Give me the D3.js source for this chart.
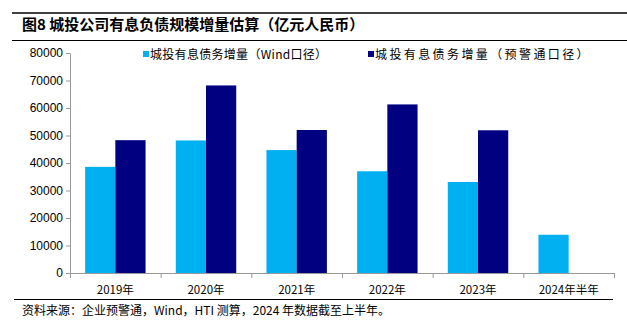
<!DOCTYPE html>
<html><head><meta charset="utf-8">
<script src="https://cdn.jsdelivr.net/npm/d3@7"></script>
<style>
body{margin:0;background:#fff;}
svg{display:block;}
</style></head>
<body>
<svg id="c" width="627" height="323"></svg>
<script>
const categories = ["2019年","2020年","2021年","2022年","2023年","2024年半年"];
const seriesNames = ["城投有息债务增量（Wind口径）","城投有息债务增量（预警通口径）"];
const windValues = [38600, 48200, 44700, 37000, 33100, 13900];
const yjtValues = [48300, 68200, 52000, 61300, 51900, null];
const yTicks = [0,10000,20000,30000,40000,50000,60000,70000,80000];
const colors = ["#00B0F0","#000080"];

const svg = d3.select("#c");
const cjk = "'Noto Sans CJK SC','Noto Sans',sans-serif";
const lat = "'Liberation Sans',Arial,sans-serif";

// frame lines
svg.append("line").attr("x1",12).attr("x2",627).attr("y1",13).attr("y2",13).attr("stroke","#000").attr("stroke-width",1.5);
svg.append("line").attr("x1",12).attr("x2",627).attr("y1",40.5).attr("y2",40.5).attr("stroke","#000").attr("stroke-width",1);
svg.append("line").attr("x1",14).attr("x2",613).attr("y1",299.5).attr("y2",299.5).attr("stroke","#000").attr("stroke-width",1);

svg.append("text").attr("x",22).attr("y",30).attr("font-family",cjk).attr("font-weight","bold").attr("font-size",15).attr("fill","#000")
  .text("图8  城投公司有息负债规模增量估算（亿元人民币）");
svg.append("text").attr("x",22).attr("y",315).attr("font-family",cjk).attr("font-size",12).attr("fill","#000")
  .text("资料来源：企业预警通，Wind，HTI 测算，2024 年数据截至上半年。");

const x0 = d3.scaleBand().domain(categories).range([70,614]).paddingInner(0).paddingOuter(0);
const x1 = d3.scaleBand().domain([0,1]).range([0,x0.bandwidth()]).paddingOuter(0.5).paddingInner(0);
const y = d3.scaleLinear().domain([0,80000]).range([273,53]);

const g = svg.append("g");
const data = [windValues, yjtValues];
data.forEach((vals,si)=>{
  g.selectAll(".b"+si).data(categories.map((c,i)=>({c,v:vals[i]})).filter(d=>d.v!=null))
   .enter().append("rect")
   .attr("x",d=>x0(d.c)+x1(si)).attr("width",x1.bandwidth())
   .attr("y",d=>y(d.v)).attr("height",d=>y(0)-y(d.v))
   .attr("fill",colors[si]);
});

// y axis
const ya = svg.append("g").attr("transform","translate(70,0)")
  .call(d3.axisLeft(y).tickValues(yTicks).tickSize(4).tickSizeOuter(0).tickFormat(d3.format("d")));
ya.select(".domain").attr("stroke","#999");
ya.selectAll(".tick line").attr("stroke","#999");
ya.selectAll("text").attr("font-family",lat).attr("font-size",12).attr("fill","#000").attr("x",-7);

// x axis
svg.append("line").attr("x1",70).attr("x2",614).attr("y1",273.5).attr("y2",273.5).attr("stroke","#999");
const bounds = categories.map(c=>x0(c)).concat([614]);
svg.selectAll(".xt").data(bounds).enter().append("line")
  .attr("x1",d=>d+0.5).attr("x2",d=>d+0.5).attr("y1",273).attr("y2",278).attr("stroke","#999");
svg.selectAll(".xl").data(categories).enter().append("text")
  .attr("x",d=>x0(d)+x0.bandwidth()/2).attr("y",294).attr("text-anchor","middle")
  .attr("font-family",cjk).attr("font-size",11.5).attr("fill","#000").text(d=>d);

// legend
const legX = [143,368];
const legSpacing = [0.3,2.4];
seriesNames.forEach((n,i)=>{
  svg.append("rect").attr("x",legX[i]).attr("y",51).attr("width",6).attr("height",6).attr("fill",colors[i]);
  svg.append("text").attr("x",legX[i]+7).attr("y",59).attr("font-family",cjk).attr("font-size",12)
    .attr("letter-spacing",legSpacing[i]).attr("fill","#000").text(n);
});
</script>
</body></html>
